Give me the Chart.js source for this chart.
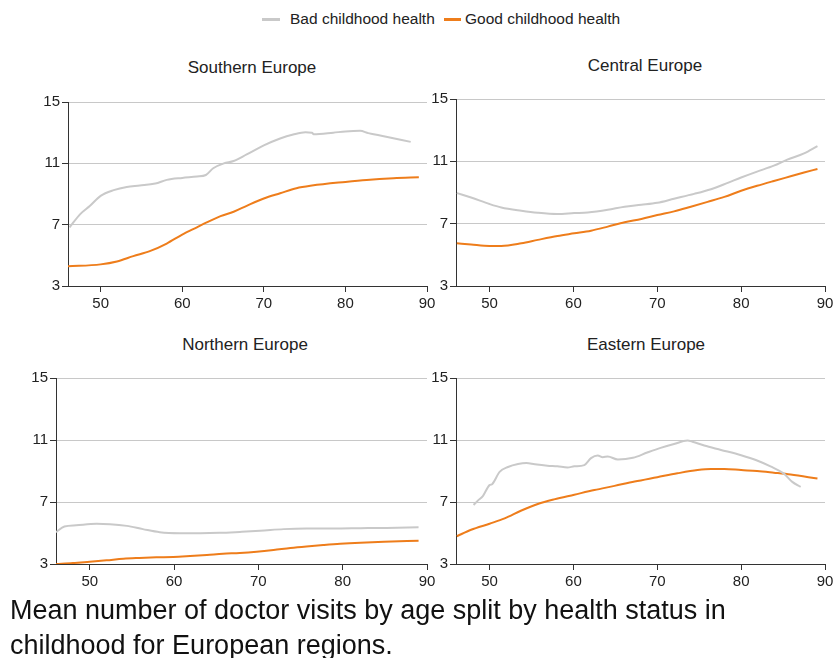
<!DOCTYPE html>
<html>
<head>
<meta charset="utf-8">
<script src="https://cdn.jsdelivr.net/npm/chart.js@4/dist/chart.umd.min.js"></script>
<style>
  html, body { margin: 0; padding: 0; background: #fff; }
  body { width: 834px; height: 658px; position: relative; overflow: hidden; font-family: "Liberation Sans", Arial, sans-serif; color: #222; }
  canvas { position: absolute; }
  .txt { position: absolute; white-space: nowrap; }
  .title { font-size: 17px; transform: translateX(-50%); }
  .legend { top: 10px; font-size: 15.5px; }
  .swatch { position: absolute; height: 3px; }
  .caption { left: 10px; top: 593px; font-size: 27px; line-height: 35px; color: #111; }
</style>
</head>
<body>
<div class="swatch" style="left:262px; top:18px; width:18px; background:#c9c9c9"></div>
<div class="txt legend" style="left:290px">Bad childhood health</div>
<div class="swatch" style="left:444px; top:18px; width:17px; background:#ee7d1b"></div>
<div class="txt legend" style="left:465px">Good childhood health</div>

<div class="txt title" style="left:252px; top:58px">Southern Europe</div>
<div class="txt title" style="left:645px; top:56px">Central Europe</div>
<div class="txt title" style="left:245px; top:335px">Northern Europe</div>
<div class="txt title" style="left:646px; top:335px">Eastern Europe</div>

<canvas id="south"></canvas>
<canvas id="central"></canvas>
<canvas id="north"></canvas>
<canvas id="east"></canvas>

<div class="txt caption">Mean number of doctor visits by age split by health status in<br>childhood for European regions.</div>

<script>
// Axis ticks shared by all four regions
const xTicks = [50, 60, 70, 80, 90];
const yTicks = [3, 7, 11, 15];
const seriesNames = ['Bad childhood health', 'Good childhood health'];

// Southern Europe
const southBadAge = [46.2, 47.5, 48.7, 50, 51.6, 53.2, 54.8, 56.7, 58.1, 60, 61.8, 62.9, 63.8, 65.1, 66.3, 67.9, 70, 72, 73.6, 75.1, 75.9, 76.1, 78.5, 80, 81.8, 82.8, 84.7, 88];
const southBadVisits = [6.83, 7.69, 8.23, 8.88, 9.25, 9.46, 9.55, 9.68, 9.92, 10.05, 10.14, 10.24, 10.68, 11.0, 11.15, 11.58, 12.17, 12.62, 12.88, 13.03, 13.0, 12.9, 13.0, 13.08, 13.12, 12.97, 12.77, 12.4];
const southGoodAge = [46, 50, 52, 54, 56.1, 58.1, 60, 61.8, 63, 64.7, 66.3, 67.9, 70, 72, 74, 75.9, 80, 82.6, 85.9, 89];
const southGoodVisits = [4.28, 4.41, 4.6, 4.95, 5.29, 5.77, 6.35, 6.83, 7.15, 7.56, 7.84, 8.23, 8.71, 9.05, 9.38, 9.55, 9.79, 9.92, 10.03, 10.09];

// Central Europe
const centralBadAge = [46.1, 47.8, 50, 51.4, 53.8, 55.75, 58.1, 60.1, 61.7, 64.1, 66.1, 68.1, 70, 72, 74.4, 76.4, 78.4, 80, 81.9, 83.9, 85.5, 87.5, 89.1];
const centralBadVisits = [8.96, 8.68, 8.26, 8.04, 7.83, 7.70, 7.62, 7.68, 7.72, 7.89, 8.09, 8.21, 8.34, 8.6, 8.91, 9.21, 9.62, 9.96, 10.34, 10.72, 11.11, 11.51, 11.98];
const centralGoodAge = [46.1, 47.8, 50, 51.4, 53.8, 55.75, 58.1, 60.1, 62.1, 64.1, 66.1, 68.1, 70, 72, 74, 76, 78, 80, 81.9, 83.9, 85.9, 87.5, 89.1];
const centralGoodVisits = [5.74, 5.66, 5.57, 5.57, 5.74, 5.96, 6.21, 6.38, 6.55, 6.81, 7.09, 7.30, 7.55, 7.79, 8.09, 8.4, 8.72, 9.11, 9.43, 9.74, 10.04, 10.28, 10.51];

// Northern Europe
const northBadAge = [46, 47, 48.4, 50.8, 52.4, 54.4, 56.3, 58.3, 60.7, 63.1, 65.4, 67.8, 70.2, 73, 75.7, 78.9, 82.1, 85.2, 89];
const northBadVisits = [5.05, 5.42, 5.50, 5.59, 5.57, 5.46, 5.25, 5.05, 4.99, 4.99, 5.01, 5.07, 5.14, 5.25, 5.29, 5.29, 5.31, 5.33, 5.37];
const northGoodAge = [46, 48, 50, 52, 54, 55.9, 57.9, 59.9, 61.9, 63.9, 65.8, 67.8, 69.8, 71.8, 73.8, 75.7, 77.7, 79.7, 82.1, 84.9, 89];
const northGoodVisits = [3.0, 3.06, 3.15, 3.24, 3.34, 3.39, 3.43, 3.45, 3.51, 3.58, 3.66, 3.71, 3.79, 3.9, 4.03, 4.13, 4.22, 4.30, 4.37, 4.43, 4.5];

// Eastern Europe
const eastBadAge = [48.1, 48.6, 49.2, 50, 50.3, 51.2, 52.2, 53.4, 54.4, 55.4, 56.9, 58.1, 59.3, 60.1, 61.3, 62.1, 62.9, 63.5, 64.1, 65.3, 67.1, 68.8, 70.4, 72, 73.6, 74.2, 75.6, 77.6, 80, 81.9, 83.5, 85.1, 86.1, 87.1];
const eastBadVisits = [6.81, 7.09, 7.38, 8.09, 8.15, 8.94, 9.26, 9.45, 9.51, 9.43, 9.34, 9.30, 9.23, 9.30, 9.38, 9.83, 10.0, 9.89, 9.94, 9.74, 9.85, 10.19, 10.49, 10.74, 10.96, 10.89, 10.64, 10.36, 10.02, 9.68, 9.30, 8.83, 8.30, 7.98];
const eastGoodAge = [46.1, 47.8, 50, 51.8, 53.8, 55.75, 57.7, 60.1, 62.5, 64.9, 67.3, 70, 72.4, 74.8, 76.4, 78, 80, 81.9, 83.9, 85.9, 89.1];
const eastGoodVisits = [4.79, 5.21, 5.60, 5.94, 6.45, 6.87, 7.17, 7.47, 7.77, 8.04, 8.32, 8.60, 8.85, 9.06, 9.13, 9.13, 9.06, 9.0, 8.89, 8.77, 8.51];

const BAD_COLOR = '#c9c9c9';
const GOOD_COLOR = '#ee7d1b';
const INK = '#222';
const AXIS = '#333';

// Fixed plot-area geometry for each panel (page pixels)
const Y_AXIS_W = 40, PAD_TOP = 10, PAD_RIGHT = 14, X_AXIS_H = 32;

function points(ages, values) {
  return ages.map((a, i) => ({ x: a, y: values[i] }));
}

function panel(id, area, badAge, badVisits, goodAge, goodVisits) {
  const canvas = document.getElementById(id);
  const w = area.r - area.l + Y_AXIS_W + PAD_RIGHT;
  const h = area.b - area.t + PAD_TOP + X_AXIS_H;
  canvas.width = w; canvas.height = h;
  canvas.style.width = w + 'px'; canvas.style.height = h + 'px';
  canvas.style.left = (area.l - Y_AXIS_W) + 'px';
  canvas.style.top = (area.t - PAD_TOP) + 'px';

  new Chart(canvas, {
    type: 'line',
    data: {
      datasets: [
        { label: seriesNames[0], data: points(badAge, badVisits), borderColor: BAD_COLOR, borderWidth: 2, pointRadius: 0, cubicInterpolationMode: 'monotone' },
        { label: seriesNames[1], data: points(goodAge, goodVisits), borderColor: GOOD_COLOR, borderWidth: 2, pointRadius: 0, cubicInterpolationMode: 'monotone' }
      ]
    },
    options: {
      responsive: false,
      animation: false,
      devicePixelRatio: 1,
      layout: { padding: { top: PAD_TOP, right: PAD_RIGHT, left: 0, bottom: 0 } },
      plugins: { legend: { display: false }, tooltip: { enabled: false }, title: { display: false } },
      scales: {
        x: {
          type: 'linear', min: 46, max: 90,
          afterBuildTicks: s => { s.ticks = xTicks.map(v => ({ value: v })); },
          afterFit: s => { s.height = X_AXIS_H; },
          grid: { drawOnChartArea: false, tickLength: 6, tickColor: AXIS },
          border: { display: true, color: AXIS, width: 1 },
          ticks: { color: INK, font: { family: 'Liberation Sans', size: 15 }, padding: 3, maxRotation: 0 }
        },
        y: {
          type: 'linear', min: 3, max: 15,
          afterBuildTicks: s => { s.ticks = yTicks.map(v => ({ value: v })); },
          afterFit: s => { s.width = Y_AXIS_W; },
          grid: { color: c => (c.tick && c.tick.value === 3 ? 'rgba(0,0,0,0)' : '#c8c8c8'), lineWidth: 1, tickLength: 6, tickColor: AXIS },
          border: { display: true, color: AXIS, width: 1 },
          ticks: { color: INK, font: { family: 'Liberation Sans', size: 15 }, padding: 2 }
        }
      }
    }
  });
}

panel('south',   { l: 68,  t: 101, r: 427, b: 286 }, southBadAge, southBadVisits, southGoodAge, southGoodVisits);
panel('central', { l: 456, t: 98,  r: 825, b: 286 }, centralBadAge, centralBadVisits, centralGoodAge, centralGoodVisits);
panel('north',   { l: 56,  t: 377, r: 427, b: 564 }, northBadAge, northBadVisits, northGoodAge, northGoodVisits);
panel('east',    { l: 456, t: 377, r: 825, b: 564 }, eastBadAge, eastBadVisits, eastGoodAge, eastGoodVisits);
</script>
</body>
</html>
